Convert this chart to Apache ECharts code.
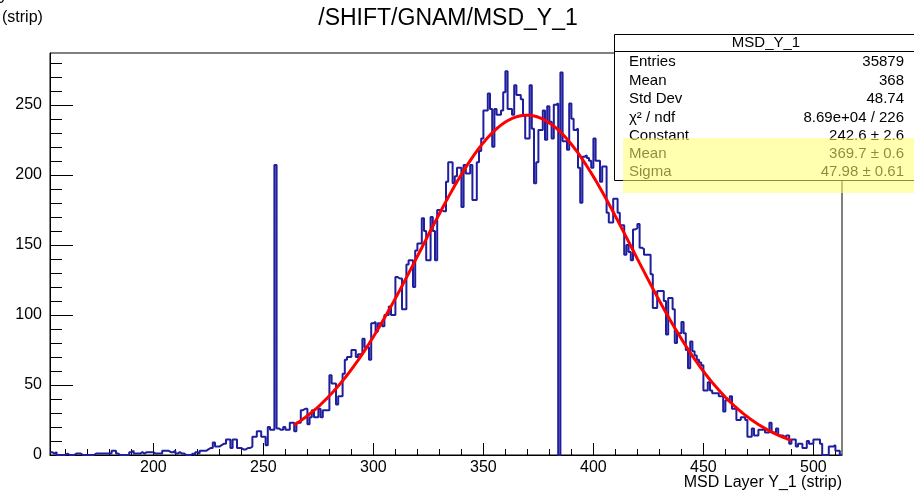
<!DOCTYPE html>
<html>
<head>
<meta charset="utf-8">
<script src="https://cdn.jsdelivr.net/npm/echarts@6/dist/echarts.min.js"></script>
<style>
  html, body { margin: 0; padding: 0; background: #fff; }
  #chart { width: 914px; height: 492px; }
</style>
</head>
<body>
<div id="chart"></div>
<script>
// Histogram binning: one bin per strip, from strip 153 up to 513
const histLow = 153;
const histHigh = 513;

// Counts per strip, starting at strip 153
const counts = [
  2,1,2,0,0,0,0,1,0,0,
  0,1,1,1,0,0,0,0,0,0,
  1,1,1,1,1,1,1,1,3,3,
  1,0,0,0,0,0,2,3,1,1,
  1,2,1,2,2,2,2,1,1,1,
  1,3,3,3,2,2,3,1,2,1,
  1,0,0,0,1,0,2,1,3,3,
  3,4,
  5,5,9,6,6,7,8,8,11,11,5,11,11,5,5,4,4,5,5,
  6,13,13,17,17,13,13,7,20,18,
  18,207,19,18,18,20,18,18,23,23,
  17,23,23,32,33,33,22,27,32,27,
  27,33,27,32,32,32,57,51,51,36,
  42,42,58,68,70,70,75,75,70,72,
  72,83,77,77,68,94,95,
  88,94,94,92,100,100,106,100,100,127,
  126,126,104,104,136,139,139,120,146,151,
  151,169,160,139,139,170,160,139,175,175,
  174,174,195,209,209,194,199,205,205,177,
  207,201,201,207,182,182,209,217,226,246,
  246,258,247,220,247,243,243,246,259,
  274,247,247,243,264,257,257,254,242,226,
  226,264,233,194,209,232,232,246,225,249,
  238,226,250,251,0,273,224,224,218,251,
  240,232,233,205,180,213,214,212,210,205,
  226,210,210,195,206,206,173,166,166,183,
  183,173,164,164,143,150,145,
  139,161,162,165,148,147,143,143,143,129,
  105,105,117,117,117,110,86,112,112,104,
  80,87,87,95,87,75,62,81,74,71,
  68,66,64,46,46,52,46,44,44,44,
  42,42,31,39,39,42,33,33,25,25,
  27,27,25,13,13,19,14,14,18,18,
  19,16,16,23,16,16,19,14,14,13,
  14,14,8,11,11,6,8,8,5,5,
  10,8,8,11,11,11,8,0,0,0,
  6,6,7,3,3,0
];

// Gaussian fit result: [Constant, Mean, Sigma] and fitted range
const fitParams = [242.6, 369.7, 47.98];
const fitRange = [264, 490];

// Axis ticks
const xMajorTicks = [200, 250, 300, 350, 400, 450, 500];
const xMinorTicks = [160, 170, 180, 190, 210, 220, 230, 240, 260, 270, 280, 290,
  310, 320, 330, 340, 360, 370, 380, 390, 410, 420, 430, 440, 460, 470, 480, 490, 510];
const yMajorTicks = [0, 50, 100, 150, 200, 250];
const yMinorTicks = [10, 20, 30, 40, 60, 70, 80, 90, 110, 120, 130, 140,
  160, 170, 180, 190, 210, 220, 230, 240, 260, 270, 280];
const yMax = 287;

// Statistics box
const statTitle = 'MSD_Y_1';
const statLabels = ['Entries', 'Mean', 'Std Dev', 'χ² / ndf', 'Constant', 'Mean', 'Sigma'];
const statValues = ['35879', '368', '48.74', '8.69e+04 / 226', '242.6 ± 2.6', '369.7 ± 0.6', '47.98 ± 0.61'];

const titleText = '/SHIFT/GNAM/MSD_Y_1';
const xTitle = 'MSD Layer Y_1 (strip)';
const yTitle = '(strip)';

const FONT = "'Liberation Sans', Arial, Helvetica, sans-serif";

// Step outline: each point is a bin's lower edge, the last one closes the final bin
const histPoints = counts.map((c, i) => [histLow + i, c]);
histPoints.push([histHigh, counts[counts.length - 1]]);

// Fit function evaluated across its range
const fitPoints = [];
for (let x = fitRange[0]; x <= fitRange[1]; x += 1) {
  const t = (x - fitParams[1]) / fitParams[2];
  fitPoints.push([x, fitParams[0] * Math.exp(-0.5 * t * t)]);
}

const black = '#000';
const axisLabelStyle = { fontFamily: FONT, fontSize: 16, color: black };

const statGraphics = [];
statGraphics.push({
  type: 'rect', z: 100,
  shape: { x: 614.5, y: 34.5, width: 320, height: 146 },
  style: { fill: '#fff', stroke: black, lineWidth: 1 }
});
statGraphics.push({
  type: 'line', z: 101,
  shape: { x1: 614.5, y1: 51.5, x2: 914, y2: 51.5 },
  style: { stroke: black, lineWidth: 1 }
});
statGraphics.push({
  type: 'text', z: 102, x: 766, y: 43,
  style: { text: statTitle, fontFamily: FONT, fontSize: 15, fill: black, align: 'center', verticalAlign: 'middle' }
});
const rowY = [62, 80.5, 99, 117.5, 135.5, 154, 172];
statLabels.forEach((lab, i) => {
  statGraphics.push({
    type: 'text', z: 102, x: 629, y: rowY[i],
    style: { text: lab, fontFamily: FONT, fontSize: 15, fill: black, align: 'left', verticalAlign: 'middle' }
  });
  statGraphics.push({
    type: 'text', z: 102, x: 904, y: rowY[i],
    style: { text: statValues[i], fontFamily: FONT, fontSize: 15, fill: black, align: 'right', verticalAlign: 'middle' }
  });
});
// translucent highlight over the fit parameters
statGraphics.push({
  type: 'rect', z: 110,
  shape: { x: 623, y: 138, width: 300, height: 55 },
  style: { fill: 'rgba(255,255,110,0.55)' }
});

const chart = echarts.init(document.getElementById('chart'), null, { renderer: 'canvas' });
chart.setOption({
  animation: false,
  backgroundColor: '#fff',
  grid: {
    left: 50, right: 72, top: 53, bottom: 37,
    show: true, borderColor: black, borderWidth: 1, backgroundColor: 'transparent'
  },
  xAxis: [
    {
      type: 'value', min: histLow, max: histHigh, position: 'bottom',
      axisLine: { show: true, onZero: false, lineStyle: { color: black, width: 1 } },
      axisTick: { show: true, inside: true, length: 12, customValues: xMajorTicks, lineStyle: { color: black, width: 1 } },
      axisLabel: Object.assign({ customValues: xMajorTicks, margin: 5 }, axisLabelStyle),
      splitLine: { show: false }
    },
    {
      type: 'value', min: histLow, max: histHigh, position: 'bottom',
      axisLine: { show: false, onZero: false },
      axisTick: { show: true, inside: true, length: 6, customValues: xMinorTicks, lineStyle: { color: black, width: 1 } },
      axisLabel: { show: false },
      splitLine: { show: false }
    }
  ],
  yAxis: [
    {
      type: 'value', min: 0, max: yMax, position: 'left',
      axisLine: { show: true, onZero: false, lineStyle: { color: black, width: 1 } },
      axisTick: { show: true, inside: true, length: 23, customValues: yMajorTicks, lineStyle: { color: black, width: 1 } },
      axisLabel: Object.assign({ customValues: yMajorTicks, margin: 8 }, axisLabelStyle),
      splitLine: { show: false }
    },
    {
      type: 'value', min: 0, max: yMax, position: 'left',
      axisLine: { show: false, onZero: false },
      axisTick: { show: true, inside: true, length: 12, customValues: yMinorTicks, lineStyle: { color: black, width: 1 } },
      axisLabel: { show: false },
      splitLine: { show: false }
    }
  ],
  series: [
    {
      type: 'line', name: 'MSD_Y_1', xAxisIndex: 0, yAxisIndex: 0,
      data: histPoints, step: 'end', showSymbol: false, symbol: 'none',
      lineStyle: { color: '#1f1f9e', width: 2 }, z: 3
    },
    {
      type: 'line', name: 'gaus', xAxisIndex: 0, yAxisIndex: 0,
      data: fitPoints, showSymbol: false, symbol: 'none', smooth: false,
      lineStyle: { color: '#ff0000', width: 3 }, z: 4
    }
  ],
  graphic: [
    {
      type: 'text', x: 448, y: 19,
      style: { text: titleText, fontFamily: FONT, fontSize: 23, fill: black, align: 'center', verticalAlign: 'middle' }
    },
    {
      type: 'text', x: 5, y: 7,
      style: { text: '0', fontFamily: FONT, fontSize: 16, fill: black, align: 'right', verticalAlign: 'bottom' }
    },
    {
      type: 'text', x: 2, y: 18,
      style: { text: yTitle, fontFamily: FONT, fontSize: 16, fill: black, align: 'left', verticalAlign: 'middle' }
    },
    {
      type: 'text', x: 842, y: 483,
      style: { text: xTitle, fontFamily: FONT, fontSize: 16, fill: black, align: 'right', verticalAlign: 'middle' }
    }
  ].concat(statGraphics)
});
</script>
</body>
</html>
